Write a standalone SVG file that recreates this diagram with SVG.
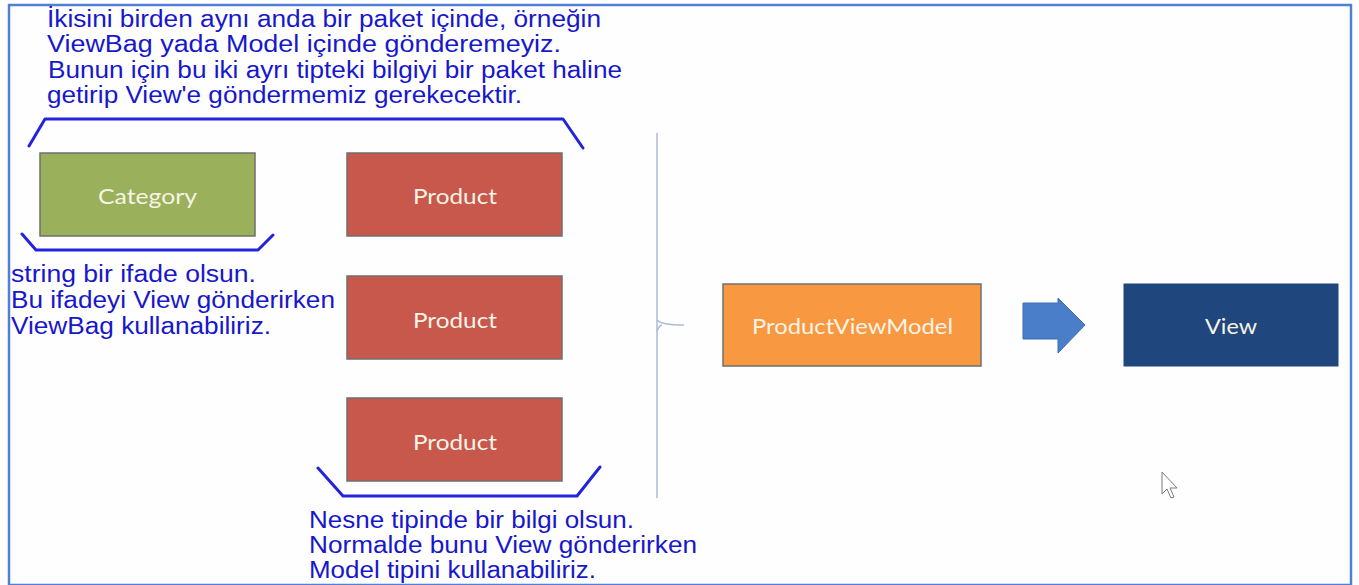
<svg xmlns="http://www.w3.org/2000/svg" width="1359" height="585" viewBox="0 0 1359 585">
<defs>
<style>
.note{font-family:"Liberation Sans",Arial,sans-serif;font-size:23px;fill:#1717cc}
.lbl{font-family:Lato,"Open Sans",sans-serif;font-size:22px;fill:#f6f4e6;text-anchor:middle}
.box{stroke:#6f6f6f;stroke-width:1.5}
.brk{fill:none;stroke:#2323dd;stroke-width:3;stroke-linejoin:round;stroke-linecap:round}
</style>
</defs>
<rect x="0" y="0" width="1359" height="585" fill="#ffffff"/>
<rect x="9" y="5" width="1342" height="580" fill="#fefefe" stroke="#4f7fd6" stroke-width="2.5"/>

<g id="note-top">
<text class="note" x="47" y="27" textLength="554" lengthAdjust="spacingAndGlyphs">İkisini birden aynı anda bir paket içinde, örneğin</text>
<text class="note" x="47" y="52" textLength="514" lengthAdjust="spacingAndGlyphs">ViewBag yada Model içinde gönderemeyiz.</text>
<text class="note" x="48" y="78" textLength="574" lengthAdjust="spacingAndGlyphs">Bunun için bu iki ayrı tipteki bilgiyi bir paket haline</text>
<text class="note" x="47" y="103" textLength="475" lengthAdjust="spacingAndGlyphs">getirip View'e göndermemiz gerekecektir.</text>
</g>
<g id="note-left">
<text class="note" x="11" y="282" textLength="245" lengthAdjust="spacingAndGlyphs">string bir ifade olsun.</text>
<text class="note" x="11" y="308" textLength="324" lengthAdjust="spacingAndGlyphs">Bu ifadeyi View gönderirken</text>
<text class="note" x="11" y="334" textLength="260" lengthAdjust="spacingAndGlyphs">ViewBag kullanabiliriz.</text>
</g>
<g id="note-bottom">
<text class="note" x="309" y="528" textLength="325" lengthAdjust="spacingAndGlyphs">Nesne tipinde bir bilgi olsun.</text>
<text class="note" x="309" y="553" textLength="388" lengthAdjust="spacingAndGlyphs">Normalde bunu View gönderirken</text>
<text class="note" x="309" y="578" textLength="287" lengthAdjust="spacingAndGlyphs">Model tipini kullanabiliriz.</text>
</g>

<g id="connectors">
<path class="brk" d="M29,146 L45,119 L563,119 L583,148"/>
<path class="brk" d="M22,234 L36,250 L258,250 L273,235"/>
<path class="brk" d="M318,468 L343,496 L577,496 L600,467"/>
<path d="M657,133 L657,498" fill="none" stroke="#aebad6" stroke-width="1.5"/>
<path d="M657,320 Q661,325 684,325 M657,331 Q659,326 662,325" fill="none" stroke="#aebad6" stroke-width="1.5"/>
<polygon points="1023,303 1058,303 1058,298 1085,325 1058,353 1058,339 1023,339" fill="#4a7ec9" stroke="#3f6fb3" stroke-width="1"/>
</g>

<g id="category">
<rect class="box" x="40" y="153" width="215" height="83" fill="#9bb05a"/>
<text class="lbl" x="147.5" y="204" textLength="99" lengthAdjust="spacingAndGlyphs">Category</text>
</g>
<g id="product-1">
<rect class="box" x="347" y="153" width="215" height="83" fill="#c8574c"/>
<text class="lbl" x="455" y="204" textLength="84" lengthAdjust="spacingAndGlyphs">Product</text>
</g>
<g id="product-2">
<rect class="box" x="347" y="276" width="215" height="83" fill="#c8574c"/>
<text class="lbl" x="455" y="328" textLength="84" lengthAdjust="spacingAndGlyphs">Product</text>
</g>
<g id="product-3">
<rect class="box" x="347" y="398" width="215" height="83" fill="#c8574c"/>
<text class="lbl" x="455" y="450" textLength="84" lengthAdjust="spacingAndGlyphs">Product</text>
</g>
<g id="product-view-model">
<rect class="box" x="723" y="284" width="258" height="82" fill="#f89841"/>
<text class="lbl" x="852.5" y="334" textLength="201" lengthAdjust="spacingAndGlyphs">ProductViewModel</text>
</g>
<g id="view">
<rect x="1124" y="284" width="214" height="82" fill="#1f477e" stroke="#1f477e" stroke-width="1"/>
<text class="lbl" x="1231" y="334" textLength="52" lengthAdjust="spacingAndGlyphs">View</text>
</g>

<path d="M1162,472 L1162,494 L1167,489 L1171,498 L1174,497 L1170,488 L1177,488 Z" fill="#ffffff" stroke="#7a7a7a" stroke-width="1"/>
</svg>
